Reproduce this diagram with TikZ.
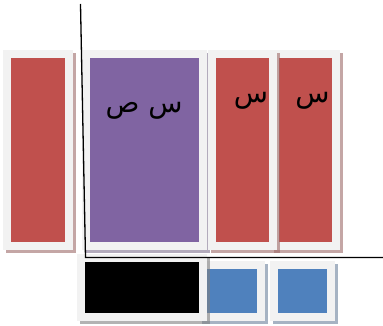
\documentclass[tikz,border=0pt]{standalone}
\usepackage{fontspec}
\newfontfamily\arabicfont[Script=Arabic]{DejaVu Sans}
\TeXXeTstate=1
\usepackage{tikz}
\usetikzlibrary{positioning,calc}
\definecolor{frame}{HTML}{F2F2F2}
\definecolor{brick}{HTML}{C0504D}
\definecolor{plum}{HTML}{8064A2}
\definecolor{steel}{HTML}{4F81BD}

\begin{document}
\begin{tikzpicture}[x=1pt,y=-1pt,
  tile/.style={fill=#1,draw=frame,line width=8pt,inner sep=0pt},
  drop/.style={fill=#1,draw=#1,line width=8pt,inner sep=0pt,opacity=.6},
  glyph/.style={font=\arabicfont\fontsize{28}{32}\selectfont,text=black}]
  \useasboundingbox (0,0) rectangle (383,326);
  % top row
  \node[drop=brick!45!gray,minimum width=62pt,minimum height=192pt] (r1s) at (41,153){};
  \node[tile=brick,minimum width=62pt,minimum height=192pt] (r1) at (38,150){};
  \node[drop=plum!45!gray,minimum width=117pt,minimum height=192pt] (ps) at (147.5,153){};
  \node[tile=plum,minimum width=117pt,minimum height=192pt] (p) at (144.5,150){};
  \node[drop=brick!45!gray,minimum width=61pt,minimum height=192pt] (r4s) at (308.5,153){};
  \node[tile=brick,minimum width=61pt,minimum height=192pt] (r4) at (305.5,150){};
  \node[drop=brick!45!gray,minimum width=61pt,minimum height=192pt] (r3s) at (245.5,153){};
  \node[tile=brick,minimum width=61pt,minimum height=192pt] (r3) at (242.5,150){};
  % bottom row
  \node[drop=steel!45!gray,minimum width=57pt,minimum height=52pt] (b2s) at (305.5,294){};
  \node[tile=steel,minimum width=57pt,minimum height=52pt] (b2) at (302.5,291){};
  \node[drop=steel!45!gray,minimum width=58pt,minimum height=52pt] (b1s) at (235,294){};
  \node[tile=steel,minimum width=58pt,minimum height=52pt] (b1) at (232,291){};
  \node[drop=gray,minimum width=122pt,minimum height=59pt] (ks) at (145,290.5){};
  \node[tile=black,minimum width=122pt,minimum height=59pt] (k) at (142,287.5){};
  % labels
  \node[glyph] (tp) at (144,111){\beginR س ص\endR};
  \node[glyph] (t3) at (251,101){\beginR س\endR};
  \node[glyph] (t4) at (312.5,101){\beginR س\endR};
  % axes
  \coordinate (top) at (80.5,4);
  \coordinate (corner) at (85.5,257.5);
  \coordinate (end) at (383,257.5);
  \draw[black,line width=1.3pt] (top)--(corner)--(end);
\end{tikzpicture}
\end{document}
